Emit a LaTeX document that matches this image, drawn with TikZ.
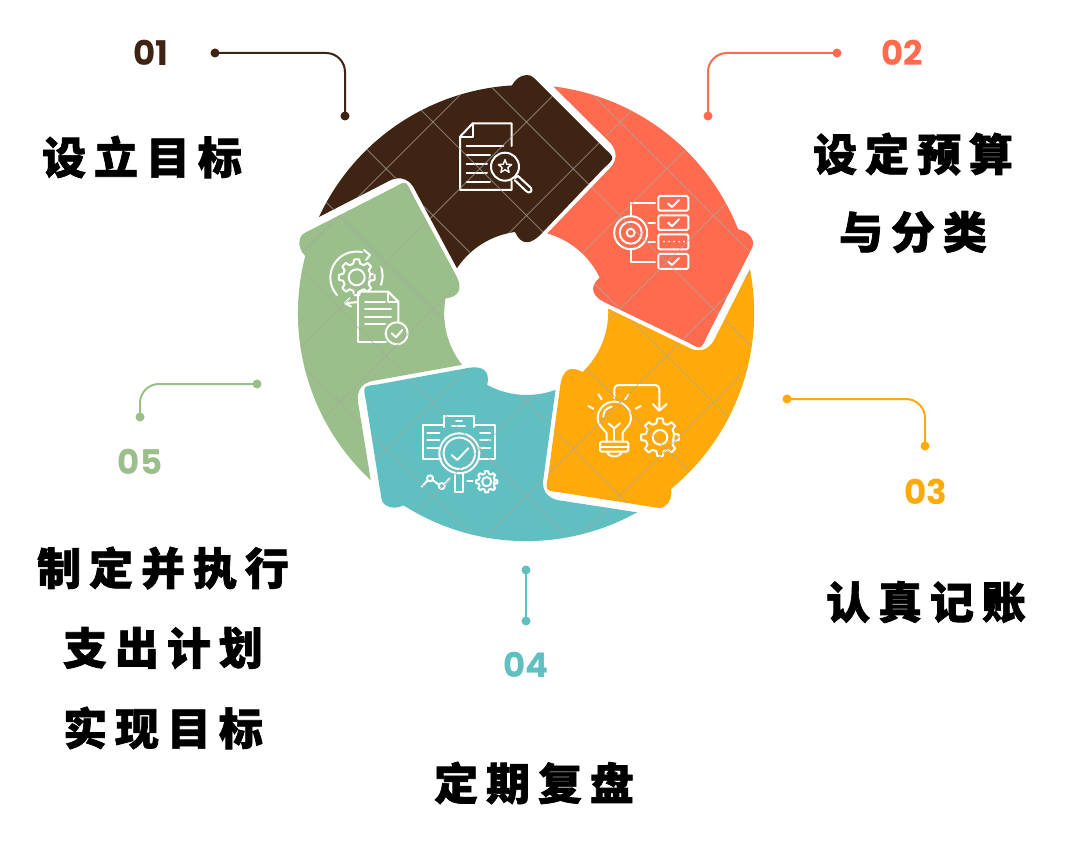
\documentclass[tikz,border=0pt]{standalone}
\usepackage{fontspec}
\setmainfont{Liberation Sans}
\newfontfamily\cjk[LetterSpace=18,BoldFeatures={FakeBold=1.5}]{Noto Sans CJK SC}
\newfontfamily\numf{Poppins}
\usetikzlibrary{calc}
\definecolor{cbrown}{HTML}{3F2413}
\definecolor{cred}{HTML}{FF6B4E}
\definecolor{corange}{HTML}{FFA90A}
\definecolor{cteal}{HTML}{60BFC0}
\definecolor{cgreen}{HTML}{9BBF8A}
\definecolor{cwm}{HTML}{A8A8A0}
\newcommand\segshape{(319,217) arc[start angle=204.9,end angle=266.5,radius=228]
  .. controls (515,80) and (520,75) .. (527,75) .. controls (530,75) and (532,76) .. (534,78)
  -- (604,148) .. controls (615,158) .. (604,168)
  -- (542,233) .. controls (530,246) and (521,245) .. (515,232)
  arc[start angle=262.4,end angle=213.7,radius=83]
  -- (415,190) .. controls (408,175) and (395,177) .. (387,182) -- cycle}
\newcommand\latticelines{%
  \foreach \k in {-6,...,6}{%
    \draw[wm] ({200},{555+93.5*\k-200}) -- ({850},{555+93.5*\k-850});
    \draw[wm] ({200},{-311+93.5*\k+200}) -- ({850},{-311+93.5*\k+850});
  }}
\newcommand\gearpath[5]{% cx,cy,outer,root,teeth
  \draw[ic] ({#1+#4*cos(-0.32*360/#5)},{#2+#4*sin(-0.32*360/#5)})
   \foreach \i [evaluate=\i as \ang using 360/#5*\i] in {0,...,#5}{
     -- ({#1+#3*cos(\ang-0.18*360/#5)},{#2+#3*sin(\ang-0.18*360/#5)})
     -- ({#1+#3*cos(\ang+0.18*360/#5)},{#2+#3*sin(\ang+0.18*360/#5)})
     -- ({#1+#4*cos(\ang+0.32*360/#5)},{#2+#4*sin(\ang+0.32*360/#5)})
     -- ({#1+#4*cos(\ang+0.68*360/#5)},{#2+#4*sin(\ang+0.68*360/#5)})
  } -- cycle;}
\tikzset{
  ic/.style={draw=white,line width=2pt,line join=round,line cap=round},
  wm/.style={draw=cwm,line width=0.8pt,opacity=0.65},
  dotn/.style={circle,fill=#1,inner sep=0pt,minimum size=9pt},
  lead/.style={draw=#1,line width=2pt,rounded corners=19pt},
  captext/.style={font=\cjk\bfseries\fontsize{44}{44}\selectfont,text=black,inner sep=0pt},
  numl/.style={font=\numf\bfseries\fontsize{34}{34}\selectfont,text=#1,inner sep=0pt}
}
\begin{document}
\begin{tikzpicture}[x=1pt,y=-1pt]
\useasboundingbox (0,0) rectangle (1068,850);
\fill[white] (0,0) rectangle (1068,850);
% segments
\fill[cbrown] \segshape;
\begin{scope}[rotate around={-72:(526,313)}]\fill[cred] \segshape;\end{scope}
\begin{scope}[rotate around={-144:(526,313)}]\fill[corange] \segshape;\end{scope}
\begin{scope}[rotate around={-216:(526,313)}]\fill[cteal] \segshape;\end{scope}
\begin{scope}[rotate around={-288:(526,313)}]\fill[cgreen] \segshape;\end{scope}
% icon 1: document and star magnifier
\draw[ic] (511.7,146) -- (511.7,123.3) -- (472.7,123.3) -- (460,136.7) -- (460,190) -- (511.7,190) -- (511.7,181);
\draw[ic] (472.7,123.3) -- (472.7,136.7) -- (460,136.7);
\foreach \yy/\xx in {146/503.3,155/490,164/487,172.7/487,181.7/490}{\draw[ic] (466.7,\yy) -- (\xx,\yy);}
\draw[ic] (505,166.7) circle[radius=14];
\draw[ic,line width=1.4pt] (505,159.7) \foreach \i in {0,...,4}{ -- ({505+3*cos(-54+72*\i)},{166.7+3*sin(-54+72*\i)}) -- ({505+7*cos(-18+72*\i)},{166.7+7*sin(-18+72*\i)}) } -- cycle;
\draw[ic] (515,178) -- (518,176) -- (531,188) .. controls (533,192) and (529,194) .. (526,191) -- (514.5,180);
% icon 2: target and checklist
\draw[ic] (630.7,232.7) circle[radius=16.5];
\draw[ic] (630.7,232.7) circle[radius=11];
\draw[ic] (630.7,232.7) circle[radius=4];
\foreach \yt/\yb in {196/210.7,215.3/230,234.3/249.3,254/269}{\draw[ic,rounded corners=1.5pt] (658.3,\yt) rectangle (688.3,\yb);}
\foreach \yy in {203.5,222.7,261.5}{\draw[ic] (668,\yy) -- (672,{\yy+3.5}) -- (679,{\yy-3.5});}
\foreach \xx in {664,669,674,679,684}{\fill[white] (\xx,241.7) circle[radius=1];}
\draw[ic] (655,203.3) -- (630.7,203.3) -- (630.7,215.7);
\draw[ic] (648.3,222.7) -- (655,222.7);
\draw[ic] (648.3,241.7) -- (655,241.7);
\draw[ic] (630.7,250) -- (630.7,261.7) -- (655,261.7);
% icon 3: bulb, arrow, gear
\draw[ic] (606.5,441.7) -- (606.5,433) .. controls (603,428) and (597.6,425) .. (597.6,418.3) arc[start angle=180,end angle=360,radius=16.7] .. controls (631,425) and (625.5,428) .. (622.5,433) -- (622.5,441.7);
\draw[ic,rounded corners=1.5pt] (600,441.7) rectangle (628.3,451.7);
\draw[ic] (600,446.7) -- (628.3,446.7);
\draw[ic] (607.3,451.7) .. controls (608,458) and (620.5,458) .. (621.7,451.7);
\draw[ic] (608.3,423.3) -- (614.3,428.3) -- (620,423.3);
\draw[ic] (614.3,428.3) -- (614.3,441.7);
\draw[ic] (603.3,416.7) .. controls (603.5,411) and (606,408) .. (611.7,406.7);
\draw[ic] (588.3,406) -- (593.3,408.7);
\draw[ic] (598.3,394.3) -- (601.7,399.3);
\draw[ic] (628.3,394.3) -- (625,399.3);
\draw[ic] (640.7,406) -- (635.7,408.7);
\draw[ic,rounded corners=4pt] (614.3,398.3) -- (614.3,385) -- (659.3,385) -- (659.3,410);
\draw[ic] (652.7,404) -- (659.3,410.7) -- (666.7,404);
\gearpath{660}{437.3}{19}{14.5}{8}
\draw[ic] (660,437.3) circle[radius=7.3];
% icon 4: documents, magnifier, chart, gear
\draw[ic] (444.3,427) -- (444.3,416) -- (474,416) -- (474,427);
\draw[ic] (443,425) -- (423.3,425) -- (423.3,459) -- (441,459);
\draw[ic] (475,425) -- (495,425) -- (495,459) -- (479,459);
\foreach \yy in {432.7,440,448.3}{\draw[ic] (427.3,\yy) -- (439.3,\yy);\draw[ic] (480,\yy) -- (490,\yy);}
\draw[ic] (456,421) -- (462,421);
\draw[ic] (452,426) -- (465,426);
\draw[ic] (459.3,453.3) circle[radius=20];
\draw[ic] (459.3,453.3) circle[radius=15.7];
\draw[ic] (451.7,455) -- (457.3,460) -- (468.3,448.3);
\draw[ic] (455,473.3) rectangle (462.7,492.3);
\draw[ic] (421.7,486.7) -- (427.5,480.5);
\draw[ic] (432.5,480) -- (438.5,484.5);
\draw[ic] (444.5,484) -- (450,478.3);
\draw[ic] (430,478.3) circle[radius=3];
\draw[ic] (441.7,486) circle[radius=3];
\draw[ic] (467.3,480.7) -- (472.7,480.7);
\gearpath{486.7}{481.7}{10.7}{8.2}{8}
\draw[ic] (486.7,481.7) circle[radius=4.6];
% icon 5: gear, arrows, document
\gearpath{356.7}{277.3}{18}{14}{8}
\draw[ic] (356.7,277.3) circle[radius=8];
\draw[ic] (337,295) arc[start angle=138,end angle=283,radius=26];
\draw[ic] (364,250) -- (370,255) -- (366,260);
\draw[ic] (381,267) arc[start angle=-20,end angle=20,radius=26];
\draw[ic] (345,303.3) -- (358,302);
\draw[ic] (350,298) -- (345,303.3) -- (351,306.5);
\draw[ic] (358.3,291.7) -- (388.3,291.7) -- (398.3,301.7) -- (398.3,324);
\draw[ic] (388.3,291.7) -- (388.3,301.7) -- (398.3,301.7);
\draw[ic] (358.3,291.7) -- (358.3,341.7) -- (386,341.7);
\foreach \yy/\xx in {301.7/385,309/391,316.7/391,324.3/385}{\draw[ic] (365,\yy) -- (\xx,\yy);}
\draw[ic,fill=cgreen] (396.7,333.3) circle[radius=11];
\draw[ic] (391.7,333.3) -- (396,337.3) -- (402.3,330);
% watermark lattice
\begin{scope}\clip \segshape;\latticelines\end{scope}
\begin{scope}[rotate around={-72:(526,313)}]\clip \segshape;\begin{scope}[rotate around={72:(526,313)}]\latticelines\end{scope}\end{scope}
\begin{scope}[rotate around={-144:(526,313)}]\clip \segshape;\begin{scope}[rotate around={144:(526,313)}]\latticelines\end{scope}\end{scope}
\begin{scope}[rotate around={-216:(526,313)}]\clip \segshape;\begin{scope}[rotate around={216:(526,313)}]\latticelines\end{scope}\end{scope}
\begin{scope}[rotate around={-288:(526,313)}]\clip \segshape;\begin{scope}[rotate around={288:(526,313)}]\latticelines\end{scope}\end{scope}
% leaders
\node[dotn=cbrown] (a1) at (215,53) {};
\node[dotn=cbrown] (b1) at (345,116) {};
\draw[lead=cbrown] (a1.center) -| (b1.center);
\node[dotn=cred] (a2) at (837,53) {};
\node[dotn=cred] (b2) at (708,116) {};
\draw[lead=cred] (a2.center) -| (b2.center);
\node[dotn=corange] (a3) at (787,399) {};
\node[dotn=corange] (b3) at (925,446) {};
\draw[lead=corange] (a3.center) -| (b3.center);
\node[dotn=cteal] (a4) at (526,570) {};
\node[dotn=cteal] (b4) at (526,621) {};
\draw[lead=cteal] (a4.center) -- (b4.center);
\node[dotn=cgreen] (a5) at (257,384) {};
\node[dotn=cgreen] (b5) at (140,417) {};
\draw[lead=cgreen] (a5.center) -| (b5.center);
% numbers
\node[numl=cbrown] (n1) at (151,53) {01};
\node[numl=cred] (n2) at (902,53) {02};
\node[numl=corange] (n3) at (926,492) {03};
\node[numl=cteal] (n4) at (526,665) {04};
\node[numl=cgreen] (n5) at (140,462) {05};
% captions
\node[captext] (t1) at (142,157) {设立目标};
\node[captext] (t2a) at (913,154) {设定预算};
\node[captext] (t2b) at (913,232) {与分类};
\node[captext] (t3) at (926,602) {认真记账};
\node[captext] (t4) at (534,783) {定期复盘};
\node[captext] (t5a) at (163,568) {制定并执行};
\node[captext] (t5b) at (163,648) {支出计划};
\node[captext] (t5c) at (163,728) {实现目标};
\end{tikzpicture}
\end{document}
